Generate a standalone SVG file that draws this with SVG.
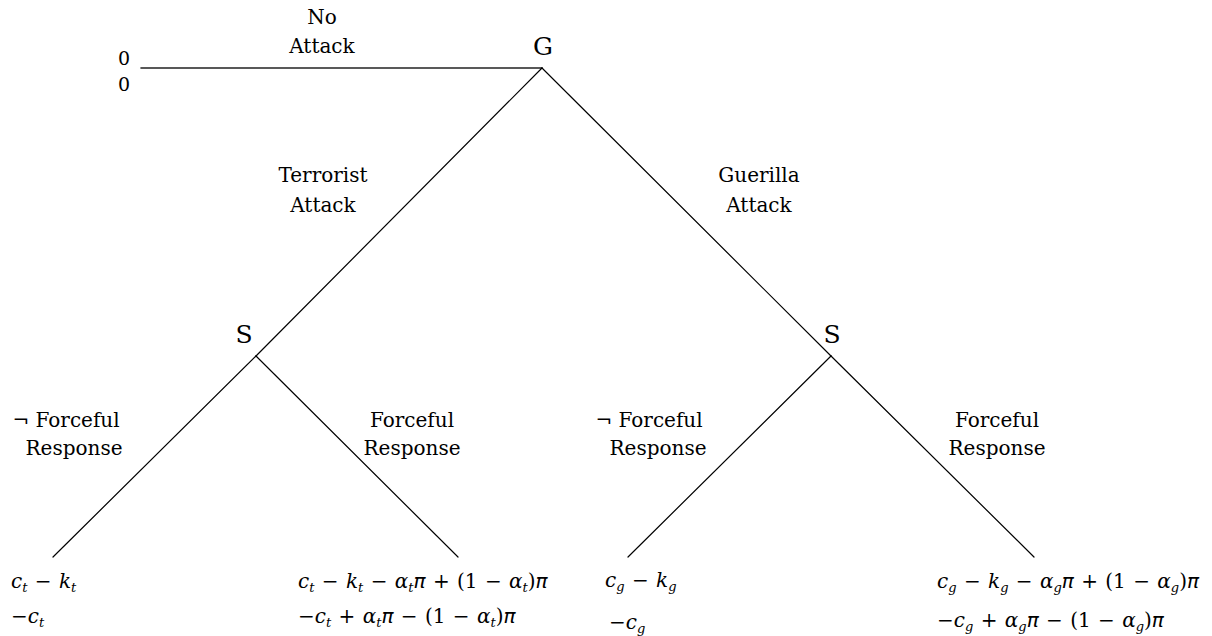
<svg xmlns="http://www.w3.org/2000/svg" width="1212" height="636" viewBox="0 0 1212 636">
<style>
.bg{fill:#ffffff}
.e{stroke:#000;stroke-width:1.2;fill:none;stroke-linecap:round}
.h{stroke:#222;stroke-width:1.6}
.lbl{font-family:"DejaVu Serif","Liberation Serif",serif;font-size:20px;fill:#000;text-anchor:middle}
.nd{font-family:"DejaVu Serif","Liberation Serif",serif;font-size:25px;fill:#000;text-anchor:middle}
.m{font-family:"DejaVu Serif","Liberation Serif",serif;font-size:20px;fill:#000;word-spacing:1px}
.i{font-style:italic}
.p{font-family:"DejaVu Sans","Noto Sans",sans-serif;font-style:italic}
.s{font-style:italic;font-size:13px}
.z{font-family:"DejaVu Serif","Liberation Serif",serif;font-size:19px;fill:#000;text-anchor:middle}
</style>
<rect class="bg" x="0" y="0" width="1212" height="636"/>
<g id="connectors">
  <line class="e h" x1="141" y1="68" x2="542" y2="68"/>
  <line class="e" x1="542" y1="68" x2="256" y2="356"/>
  <line class="e" x1="542" y1="68" x2="831" y2="356"/>
  <line class="e" x1="256" y1="356" x2="53" y2="557"/>
  <line class="e" x1="256" y1="356" x2="458" y2="557"/>
  <line class="e" x1="831" y1="356" x2="628" y2="557"/>
  <line class="e" x1="831" y1="356" x2="1034" y2="557"/>
  <g id="edge-labels">
    <text class="lbl" x="322" y="24">No</text>
    <text class="lbl" x="322" y="53">Attack</text>
    <text class="lbl" x="323" y="182">Terrorist</text>
    <text class="lbl" x="323" y="212">Attack</text>
    <text class="lbl" x="759" y="182">Guerilla</text>
    <text class="lbl" x="759" y="212">Attack</text>
    <text class="lbl" x="66" y="427">¬ Forceful</text>
    <text class="lbl" x="74" y="455">Response</text>
    <text class="lbl" x="412" y="427">Forceful</text>
    <text class="lbl" x="412" y="455">Response</text>
    <text class="lbl" x="649" y="427">¬ Forceful</text>
    <text class="lbl" x="658" y="455">Response</text>
    <text class="lbl" x="997" y="427">Forceful</text>
    <text class="lbl" x="997" y="455">Response</text>
  </g>
</g>
<g id="node-G">
  <text class="nd" x="543" y="55">G</text>
</g>
<g id="node-S-terrorist">
  <text class="nd" x="244" y="343">S</text>
</g>
<g id="node-S-guerilla">
  <text class="nd" x="832" y="343">S</text>
</g>
<g id="leaf-no-attack">
  <text class="z" x="124" y="65">0</text>
  <text class="z" x="124" y="91">0</text>
</g>
<g id="leaf-t-nf">
  <text class="m" x="11" y="588"><tspan class="i">c</tspan><tspan class="s" dy="4">t</tspan><tspan dy="-4"> − </tspan><tspan class="i">k</tspan><tspan class="s" dy="4">t</tspan></text>
  <text class="m" x="11" y="623">−<tspan class="i">c</tspan><tspan class="s" dy="4">t</tspan></text>
</g>
<g id="leaf-t-f">
  <text class="m" x="298" y="588"><tspan class="i">c</tspan><tspan class="s" dy="4">t</tspan><tspan dy="-4"> − </tspan><tspan class="i">k</tspan><tspan class="s" dy="4">t</tspan><tspan dy="-4"> − </tspan><tspan class="i">α</tspan><tspan class="s" dy="4">t</tspan><tspan class="p" dy="-4">π</tspan><tspan> + (1 − </tspan><tspan class="i">α</tspan><tspan class="s" dy="4">t</tspan><tspan dy="-4">)</tspan><tspan class="p">π</tspan></text>
  <text class="m" x="298" y="623">−<tspan class="i">c</tspan><tspan class="s" dy="4">t</tspan><tspan dy="-4"> + </tspan><tspan class="i">α</tspan><tspan class="s" dy="4">t</tspan><tspan class="p" dy="-4">π</tspan><tspan> − (1 − </tspan><tspan class="i">α</tspan><tspan class="s" dy="4">t</tspan><tspan dy="-4">)</tspan><tspan class="p">π</tspan></text>
</g>
<g id="leaf-g-nf">
  <text class="m" x="605" y="587"><tspan class="i">c</tspan><tspan class="s" dy="4">g</tspan><tspan dy="-4"> − </tspan><tspan class="i">k</tspan><tspan class="s" dy="4">g</tspan></text>
  <text class="m" x="609" y="629">−<tspan class="i">c</tspan><tspan class="s" dy="4">g</tspan></text>
</g>
<g id="leaf-g-f">
  <text class="m" x="937" y="588"><tspan class="i">c</tspan><tspan class="s" dy="4">g</tspan><tspan dy="-4"> − </tspan><tspan class="i">k</tspan><tspan class="s" dy="4">g</tspan><tspan dy="-4"> − </tspan><tspan class="i">α</tspan><tspan class="s" dy="4">g</tspan><tspan class="p" dy="-4">π</tspan><tspan> + (1 − </tspan><tspan class="i">α</tspan><tspan class="s" dy="4">g</tspan><tspan dy="-4">)</tspan><tspan class="p">π</tspan></text>
  <text class="m" x="937" y="627">−<tspan class="i">c</tspan><tspan class="s" dy="4">g</tspan><tspan dy="-4"> + </tspan><tspan class="i">α</tspan><tspan class="s" dy="4">g</tspan><tspan class="p" dy="-4">π</tspan><tspan> − (1 − </tspan><tspan class="i">α</tspan><tspan class="s" dy="4">g</tspan><tspan dy="-4">)</tspan><tspan class="p">π</tspan></text>
</g>
</svg>
